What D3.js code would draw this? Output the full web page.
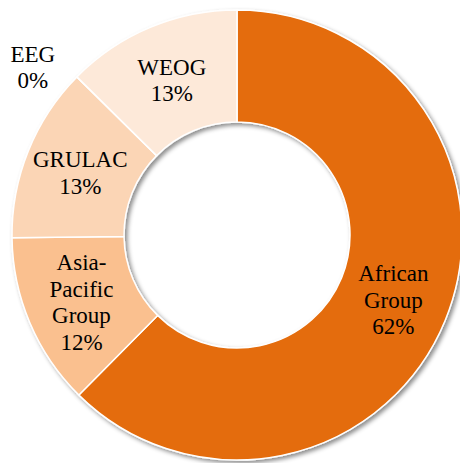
<!DOCTYPE html>
<html>
<head>
<meta charset="utf-8">
<script src="https://cdn.jsdelivr.net/npm/d3@7/dist/d3.min.js"></script>
<style>
html,body{margin:0;padding:0;background:#fff;}
svg{display:block;font-family:"Liberation Serif",Tinos,"Times New Roman",serif;}
</style>
</head>
<body>
<svg id="chart" width="460" height="463" font-family="Liberation Serif, Tinos, Times New Roman, serif"></svg>
<script>
const categories = ["African Group", "Asia-Pacific Group", "GRULAC", "EEG", "WEOG"];
const labelLines = [["African", "Group"], ["Asia-", "Pacific", "Group"], ["GRULAC"], ["EEG"], ["WEOG"]];
const values = [62.4, 12.4, 12.6, 0, 12.6];
const percentLabels = ["62%", "12%", "13%", "0%", "13%"];
const colors = ["#E46C0A", "#FAC08F", "#FBD5B5", "#FDE9D9", "#FDE9D9"];

const cx = 237, cy = 235, rOuter = 225, rInner = 113;

const svg = d3.select("#chart");
const defs = svg.append("defs");
const f = defs.append("filter").attr("id", "shadow").attr("x", "-10%").attr("y", "-10%").attr("width", "125%").attr("height", "125%");
f.append("feDropShadow").attr("dx", 2.5).attr("dy", 2.5).attr("stdDeviation", 2).attr("flood-color", "#000").attr("flood-opacity", 0.45);

const g = svg.append("g").attr("transform", `translate(${cx},${cy})`);

const pie = d3.pie().sort(null).value(d => d).startAngle(0).endAngle(2 * Math.PI);
const arcs = pie(values);
const arc = d3.arc().innerRadius(rInner).outerRadius(rOuter);

const slices = g.append("g").attr("filter", "url(#shadow)");
slices.selectAll("path")
  .data(arcs)
  .join("path")
  .attr("d", arc)
  .attr("fill", (d, i) => colors[i])
  .attr("stroke", "#fff")
  .attr("stroke-width", 1.5)
  .attr("stroke-linejoin", "round");

const fontSize = 23, lineH = 26.5;

arcs.forEach((d, i) => {
  let [x, y] = arc.centroid(d);
  if (values[i] === 0) {
    // zero slice: label pushed outside, upper-left of the ring
    const a = -0.88;
    x = Math.sin(a) * (rOuter + 40);
    y = -Math.cos(a) * (rOuter + 40);
  }
  const lines = labelLines[i].concat([percentLabels[i]]);
  const n = lines.length;
  lines.forEach((s, k) => {
    g.append("text")
      .attr("x", x)
      .attr("y", y + (k - (n - 1) / 2) * lineH + fontSize * 0.38)
      .attr("font-family", "Liberation Serif")
      .style("font-family", "'Liberation Serif', Tinos, 'Times New Roman', serif")
      .attr("font-size", fontSize)
      .attr("fill", "#000")
      .attr("text-anchor", "middle")
      .text(s);
  });
});
</script>
</body>
</html>
